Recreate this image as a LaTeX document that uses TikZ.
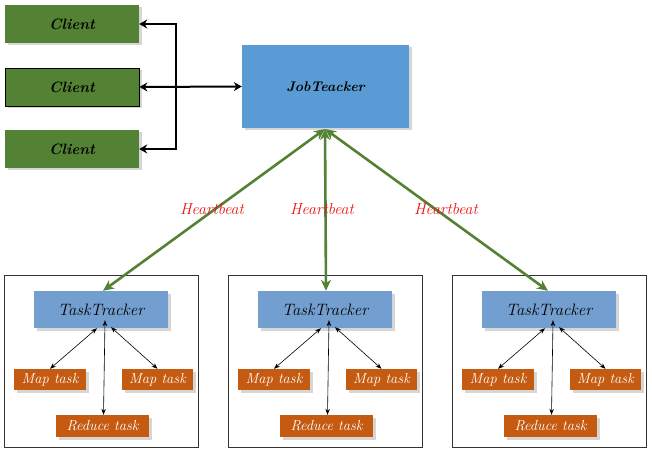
\documentclass[tikz,border=0pt]{standalone}
\usetikzlibrary{arrows.meta,shadows}
\definecolor{cgreen}{HTML}{548235}
\definecolor{jblue}{HTML}{5B9BD5}
\definecolor{tblue}{HTML}{729FCF}
\definecolor{orng}{HTML}{C55A11}
\definecolor{hred}{HTML}{EE1111}
\begin{document}
\begin{tikzpicture}[x=1pt,y=-1pt,
  shad/.style={drop shadow={shadow xshift=2.5pt,shadow yshift=-2.5pt,fill=black,opacity=0.16}},
  client/.style={shad,fill=cgreen,minimum width=134pt,minimum height=38pt,inner sep=0pt,font=\fontsize{15}{17}\selectfont\bfseries\itshape},
  jobt/.style={shad,fill=jblue,minimum width=167pt,minimum height=83pt,inner sep=0pt,font=\fontsize{14}{16}\selectfont\bfseries\itshape},
  ttrack/.style={shad,fill=tblue,minimum width=134pt,minimum height=37pt,inner sep=0pt,font=\fontsize{16.5}{18}\selectfont\itshape},
  task/.style={shad,fill=orng,text=white,minimum height=21pt,inner sep=0pt,font=\fontsize{14.5}{16}\selectfont\itshape},
  outer/.style={draw=black!80,line width=0.8pt,minimum width=194pt,minimum height=172pt,inner sep=0pt},
  blk/.style={line width=2pt,{Stealth[length=8pt,width=9pt]}-{Stealth[length=8pt,width=9pt]}},
  grn/.style={draw=cgreen,line width=2.6pt,{Stealth[length=11pt,width=10pt]}-{Stealth[length=11pt,width=10pt]}},
  thin/.style={line width=0.6pt,{Stealth[length=6pt,width=4.5pt]}-{Stealth[length=6pt,width=4.5pt]}},
  hb/.style={text=hred,font=\fontsize{16}{18}\selectfont\itshape}]
\useasboundingbox (0,0) rectangle (652,454);

\node[client] (c1) at (72,24) {Client};
\node[client,draw=black,line width=0.8pt] (c2) at (72,87) {Client};
\node[client] (c3) at (72,149) {Client};
\node[jobt] (jt) at (325.5,86.5) {JobTeacker};

\coordinate (vt) at (176,24);
\coordinate (vb) at (176,149);
\draw[blk] (c1.east) -- (vt) -- (vb) -- (c3.east);
\draw[blk] (c2.east) -- (jt.west);

\coordinate (jb) at (325,129);

\foreach \i/\dx in {1/0,2/224,3/448}{
  \node[outer] (o\i) at (101.5+\dx,361) {};
  \node[ttrack] (t\i) at (101+\dx,309.5) {TaskTracker};
  \node[task,minimum width=72pt] (ml\i) at (50+\dx,379.5) {Map task};
  \node[task,minimum width=71pt] (mr\i) at (157.5+\dx,379.5) {Map task};
  \node[task,minimum width=93pt,minimum height=22pt] (r\i) at (102.5+\dx,426) {Reduce task};
  \draw[thin] ([xshift=-4pt]t\i.south) -- (ml\i.north);
  \draw[thin] ([xshift=10pt,yshift=1pt]t\i.south) -- (mr\i.north);
  \draw[thin] ([xshift=4pt,yshift=8pt]t\i.south) -- ([xshift=1pt]r\i.north);
}
\draw[grn] (jb) -- ([xshift=2pt]t1.north);
\draw[grn] (jb) -- ([xshift=1pt]t2.north);
\draw[grn] (jb) -- ([xshift=-1pt]t3.north);

\node[hb] at (212,209) {Heartbeat};
\node[hb] at (322,209) {Heartbeat};
\node[hb] at (446,209) {Heartbeat};
\end{tikzpicture}
\end{document}
